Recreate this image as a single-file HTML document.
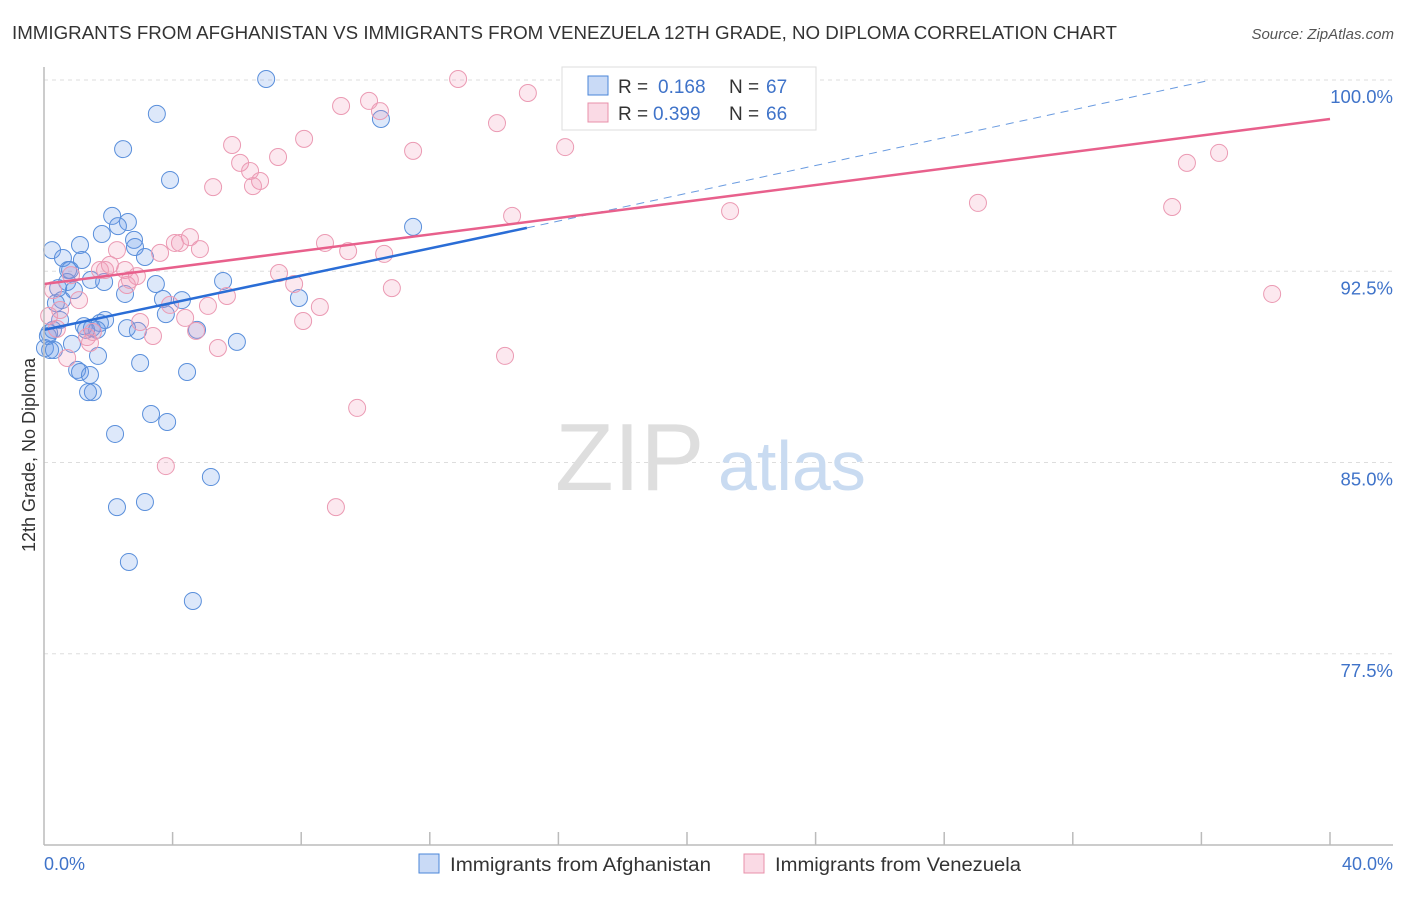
<!DOCTYPE html>
<html><head><meta charset="utf-8"><style>
body{margin:0;background:#fff;font-family:"Liberation Sans",sans-serif;}
svg text{font-family:"Liberation Sans",sans-serif;}
</style></head><body>
<svg id="chart" width="1406" height="892" xmlns="http://www.w3.org/2000/svg">
<text x="12" y="39" font-size="18" fill="#333" textLength="1105" lengthAdjust="spacingAndGlyphs">IMMIGRANTS FROM AFGHANISTAN VS IMMIGRANTS FROM VENEZUELA 12TH GRADE, NO DIPLOMA CORRELATION CHART</text>
<text x="1394" y="39" font-size="15" fill="#555" text-anchor="end" font-style="italic">Source: ZipAtlas.com</text>
<g id="grid"></g>
<text x="555" y="490" font-size="96" font-family="Liberation Serif,serif" fill="#dedede">ZIP</text>
<text x="718" y="490" font-size="70" fill="#c9dbf1">atlas</text>
<g id="points"></g>
<g id="lines"></g>
<line x1="44" y1="67" x2="44" y2="845" stroke="#bbb" stroke-width="1.5"/>
<line x1="44" y1="845" x2="1393" y2="845" stroke="#bbb" stroke-width="1.5"/>
<g id="ticks"></g>
<text transform="translate(35,455) rotate(-90)" text-anchor="middle" font-size="18" fill="#333">12th Grade, No Diploma</text>
<text x="44" y="870" font-size="18" fill="#3f73c9">0.0%</text>
<text x="1393" y="870" font-size="18" fill="#3f73c9" text-anchor="end">40.0%</text>
<g>
<rect x="562" y="67" width="254" height="63" fill="#fff" stroke="#ddd"/>
<rect x="588" y="76" width="20" height="19" fill="rgba(100,150,230,0.35)" stroke="#4a86d8"/>
<rect x="588" y="103" width="20" height="19" fill="rgba(240,150,180,0.35)" stroke="#e890aa"/>
<text x="618" y="93" font-size="19" fill="#333">R =</text>
<text x="658" y="93" font-size="19" fill="#3f73c9">0.168</text>
<text x="729" y="93" font-size="19" fill="#333">N =</text>
<text x="766" y="93" font-size="19" fill="#3f73c9">67</text>
<text x="618" y="120" font-size="19" fill="#333">R =</text>
<text x="653" y="120" font-size="19" fill="#3f73c9">0.399</text>
<text x="729" y="120" font-size="19" fill="#333">N =</text>
<text x="766" y="120" font-size="19" fill="#3f73c9">66</text>
</g>
<g>
<rect x="419" y="854" width="20" height="19" fill="rgba(100,150,230,0.35)" stroke="#4a86d8"/>
<text x="450" y="871" font-size="19" fill="#333" textLength="261" lengthAdjust="spacingAndGlyphs">Immigrants from Afghanistan</text>
</g>
<g>
<rect x="744" y="854" width="20" height="19" fill="rgba(240,150,180,0.35)" stroke="#e890aa"/>
<text x="775" y="871" font-size="19" fill="#333" textLength="246" lengthAdjust="spacingAndGlyphs">Immigrants from Venezuela</text>
</g>
</svg>
<script>
const yTicks=[100,92.5,85,77.5];
const yTickLabels=["100.0%","92.5%","85.0%","77.5%"];
const blueX=[6.91,3.51,10.48,2.46,3.92,11.48,2.12,2.61,2.30,1.80,2.80,0.25,1.12,2.83,3.14,0.59,1.18,0.75,0.72,1.46,1.87,5.57,3.48,0.93,0.44,0.56,2.52,3.70,4.29,7.93,3.79,0.37,1.90,1.24,1.74,1.49,0.28,0.16,2.58,2.92,4.76,6.00,0.87,0.03,0.19,1.68,2.99,1.03,1.12,4.45,1.43,1.52,1.37,3.33,3.83,2.21,5.19,3.14,2.27,2.64,4.63,0.12,1.65,0.50,0.31,0.81,1.31];
const blueY=[100.04,98.67,98.47,97.29,96.08,94.24,94.67,94.43,94.27,93.96,93.73,93.33,93.53,93.45,93.06,93.02,92.94,92.55,92.08,92.16,92.08,92.12,92.0,91.76,91.84,91.37,91.61,91.41,91.37,91.45,90.82,91.25,90.59,90.35,90.47,90.27,90.20,90.08,90.27,90.16,90.20,89.73,89.65,89.49,89.41,89.18,88.90,88.63,88.55,88.55,88.43,87.76,87.76,86.90,86.59,86.12,84.43,83.45,83.25,81.10,79.57,89.96,90.20,90.59,89.41,92.55,90.20];
const pinkX=[12.88,10.11,15.05,9.24,10.45,14.09,8.09,5.85,16.21,11.48,7.28,6.10,6.41,6.72,5.26,6.50,21.34,14.56,29.05,35.09,35.55,36.55,38.20,4.54,4.23,4.07,4.85,2.27,3.61,8.74,9.46,10.58,2.52,1.90,2.89,7.31,0.84,2.58,7.78,10.82,5.69,0.28,1.09,5.10,8.58,4.39,8.06,0.16,0.40,1.34,1.52,3.39,4.73,5.41,0.72,14.34,9.74,3.79,9.08,2.67,0.50,1.43,1.74,2.05,2.99,3.92];
const pinkY=[100.04,99.18,99.49,98.98,98.78,98.31,97.69,97.45,97.37,97.22,96.98,96.75,96.43,96.04,95.80,95.84,94.86,94.67,95.18,95.02,96.75,97.14,91.61,93.84,93.61,93.61,93.37,93.33,93.22,93.61,93.29,93.18,92.55,92.55,92.31,92.43,92.35,91.96,92.0,91.84,91.53,91.76,91.37,91.14,91.10,90.67,90.55,90.75,90.24,89.92,90.12,89.96,90.16,89.49,89.10,89.18,87.14,84.86,83.25,92.16,90.98,89.69,92.55,92.75,90.51,91.18];
const blueTrend=[[0,90.2],[15.02,94.2],[36.3,100]];
const pinkTrend=[[0,92.0],[40,98.47]];
const xS=v=>44+v*32.15, yS=v=>80+(100-v)*25.5;
const NS="http://www.w3.org/2000/svg";
function mk(t,a,p){const e=document.createElementNS(NS,t);for(const k in a)e.setAttribute(k,a[k]);p.appendChild(e);return e;}
const grid=document.getElementById('grid');
yTicks.forEach((v,i)=>{
 const l=mk('line',{x1:44,x2:1393,y1:yS(v),y2:yS(v),stroke:'#ddd','stroke-dasharray':'4,4'},grid);
 
 
 const t=mk('text',{x:1393,y:yS(v)+23,'text-anchor':'end','font-size':18.5,fill:'#3f73c9'},grid);
 t.textContent=yTickLabels[i];
 
 
});
const ticks=document.getElementById('ticks');
for(let k=1;k<=10;k++){const x=44+k*128.6;
 const l=mk('line',{x1:x,x2:x,y1:832,y2:845,stroke:'#bbb','stroke-width':1.5},ticks);
 
 }
const pts=document.getElementById('points');
blueX.forEach((v,i)=>{const c=mk('circle',{cx:xS(v),cy:yS(blueY[i]),r:8.5,fill:'rgba(100,150,230,0.22)',stroke:'#5a8fdb','stroke-width':1},pts);
 
 });
pinkX.forEach((v,i)=>{const c=mk('circle',{cx:xS(v),cy:yS(pinkY[i]),r:8.5,fill:'rgba(240,150,180,0.22)',stroke:'#eb9ab3','stroke-width':1},pts);
 
 });
const lines=document.getElementById('lines');
const b1=mk('line',{x1:xS(blueTrend[0][0]),y1:yS(blueTrend[0][1]),x2:xS(blueTrend[1][0]),y2:yS(blueTrend[1][1]),stroke:'#2a6dd6','stroke-width':2.5},lines);


const b2=mk('line',{x1:xS(blueTrend[1][0]),y1:yS(blueTrend[1][1]),x2:xS(blueTrend[2][0]),y2:yS(blueTrend[2][1]),stroke:'#6a9be0','stroke-width':1,'stroke-dasharray':'8,6'},lines);


const p1=mk('line',{x1:xS(pinkTrend[0][0]),y1:yS(pinkTrend[0][1]),x2:xS(pinkTrend[1][0]),y2:yS(pinkTrend[1][1]),stroke:'#e8608c','stroke-width':2.5},lines);


</script>
</body></html>
